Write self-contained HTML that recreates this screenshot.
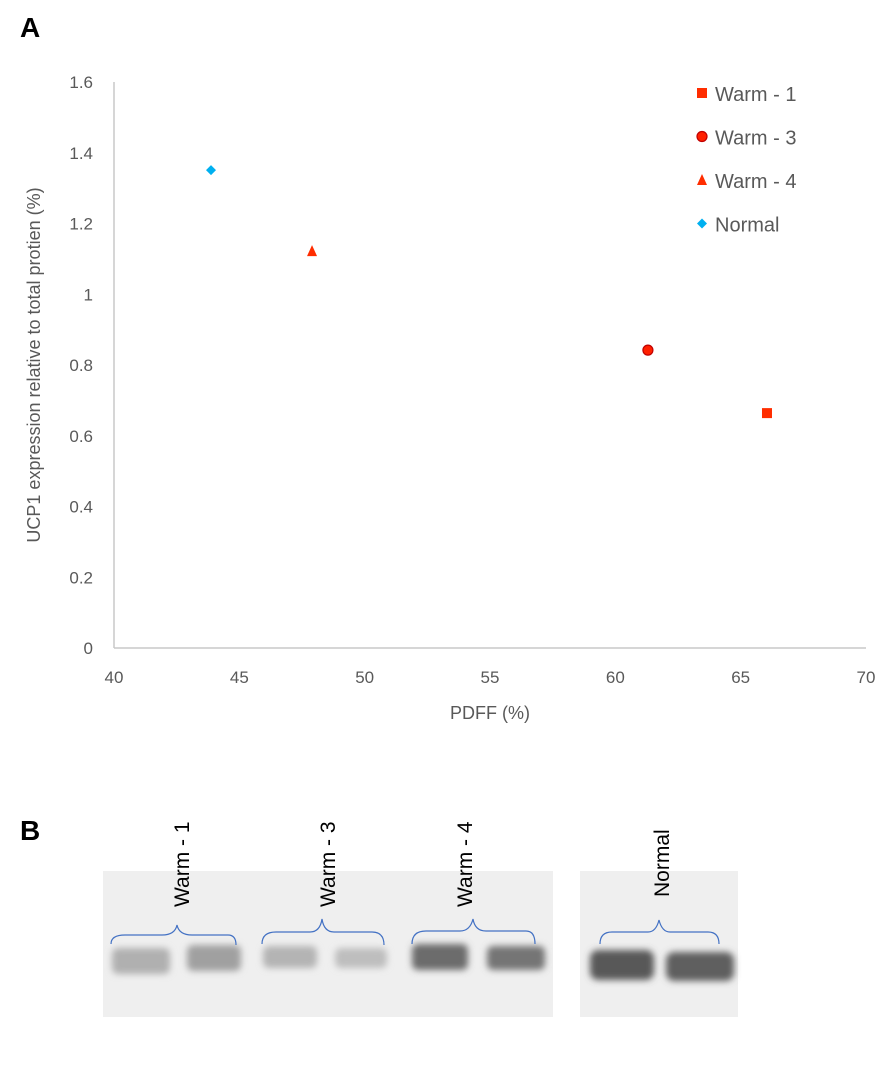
<!DOCTYPE html>
<html><head><meta charset="utf-8"><style>
body{margin:0;background:#fff;width:895px;height:1083px;overflow:hidden;font-family:"Liberation Sans",sans-serif}
</style></head><body>
<svg width="895" height="1083" xmlns="http://www.w3.org/2000/svg">
<defs>
<filter id="blur" x="-20%" y="-50%" width="140%" height="200%"><feGaussianBlur stdDeviation="3.5"/></filter>
</defs>
<text x="20" y="37" font-size="28" font-weight="bold" fill="#000">A</text>
<g id="chart"></g>
<text x="20" y="840" font-size="28" font-weight="bold" fill="#000">B</text>
<g id="blot">
<rect x="103" y="871" width="450" height="146" fill="#efefef"/>
<rect x="580" y="871" width="158" height="146" fill="#efefef"/>
<g filter="url(#blur)">
<rect x="112" y="948" width="58" height="26" rx="6" fill="#b0b0b0"/>
<rect x="187" y="945" width="54" height="26" rx="6" fill="#a0a0a0"/>
<rect x="263" y="946" width="54" height="22" rx="6" fill="#b4b4b4"/>
<rect x="335" y="948" width="52" height="20" rx="6" fill="#bebebe"/>
<rect x="412" y="944" width="56" height="26" rx="6" fill="#6c6c6c"/>
<rect x="487" y="946" width="58" height="24" rx="6" fill="#747474"/>
<rect x="590" y="950" width="64" height="30" rx="8" fill="#585858"/>
<rect x="666" y="952" width="68" height="29" rx="8" fill="#5e5e5e"/>
</g>
<g fill="none" stroke="#4472c4" stroke-width="1.2">
<path d="M111,944 Q111,935 125,935 L162,935 Q175,935 177,925 Q179,935 192,935 L228,935 Q236,935 236,945"/>
<path d="M262,944 Q262,932 276,932 L310,932 Q320,932 322,919 Q324,932 334,932 L372,932 Q384,932 384,945"/>
<path d="M412,944 Q412,931 426,931 L460,931 Q470,931 473,919 Q475,931 486,931 L526,931 Q535,931 535,944"/>
<path d="M600,944 Q600,932 612,932 L648,932 Q656,932 659,920 Q662,932 670,932 L708,932 Q719,932 719,944"/>
</g>
<g font-size="21" fill="#000">
<text transform="translate(189,907) rotate(-90)">Warm - 1</text>
<text transform="translate(335,907) rotate(-90)">Warm - 3</text>
<text transform="translate(472,907) rotate(-90)">Warm - 4</text>
<text transform="translate(669,897) rotate(-90)">Normal</text>
</g>
</g>
<script>
const seriesNames=["Warm - 1","Warm - 3","Warm - 4","Normal"];
const xValues=[66.05,61.3,47.9,43.87];
const yValues=[0.664,0.842,1.122,1.351];
const xTicks=[40,45,50,55,60,65,70];
const yTicks=[0,0.2,0.4,0.6,0.8,1,1.2,1.4,1.6];
const ns="http://www.w3.org/2000/svg";
const g=document.getElementById('chart');
const X0=114,X1=866,Y0=648,Y1=82;
const sx=v=>X0+(v-40)/(70-40)*(X1-X0);
const sy=v=>Y0-(v-0)/(1.6)*(Y0-Y1);
function mk(t,a,p){const e=document.createElementNS(ns,t);for(const k in a)e.setAttribute(k,a[k]);(p||g).appendChild(e);return e;}
let ax=mk('line',{x1:X0,y1:Y1,x2:X0,y2:Y0,stroke:'#c8c8c8','stroke-width':1.5});


let ax2=mk('line',{x1:X0,y1:Y0,x2:X1,y2:Y0,stroke:'#c8c8c8','stroke-width':1.5});


yTicks.forEach(v=>{const t=mk('text',{x:93,y:sy(v)+6,'text-anchor':'end','font-size':17,fill:'#595959'});t.textContent=String(v);

});
xTicks.forEach(v=>{const t=mk('text',{x:sx(v),y:683,'text-anchor':'middle','font-size':17,fill:'#595959'});t.textContent=String(v);

});
let xt=mk('text',{x:490,y:719,'text-anchor':'middle','font-size':18,fill:'#595959'});xt.textContent='PDFF (%)';


let yt=mk('text',{transform:'translate(40,365) rotate(-90)','text-anchor':'middle','font-size':18,fill:'#595959'});yt.textContent='UCP1 expression relative to total protien (%)';


function marker(i,cx,cy,s){
  let e;
  if(i===0)e=mk('rect',{x:cx-s,y:cy-s,width:2*s,height:2*s,fill:'#ff2d00'});
  else if(i===1)e=mk('circle',{cx:cx,cy:cy,r:s,fill:'#ff2000',stroke:'#c00000','stroke-width':1.2});
  else if(i===2)e=mk('polygon',{points:`${cx},${cy-s-1} ${cx-s},${cy+s} ${cx+s},${cy+s}`,fill:'#ff2d00'});
  else e=mk('polygon',{points:`${cx},${cy-s} ${cx+s},${cy} ${cx},${cy+s} ${cx-s},${cy}`,fill:'#00b0f0'});
  return e;
}
seriesNames.forEach((n,i)=>{
  const m=marker(i,sx(xValues[i]),sy(yValues[i]),5);
  
  
  const ly=93+i*43.5;
  const lm=marker(i,702,ly,5);
  
  
  const lt=mk('text',{x:715,y:ly+8,'font-size':20,fill:'#595959'});lt.textContent=n;
  
  
});
</script>
</svg>
</body></html>
